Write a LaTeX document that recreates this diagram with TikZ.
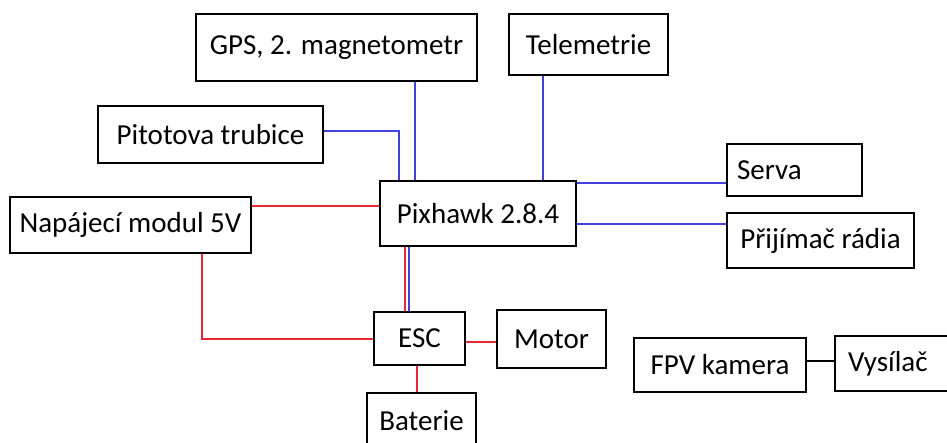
\documentclass[tikz,border=0pt]{standalone}
\usepackage{fontspec}
\setmainfont{Carlito}
\definecolor{sigblue}{RGB}{66,66,222}
\definecolor{pwrred}{RGB}{232,40,52}

\begin{document}
\begin{tikzpicture}[x=1pt,y=-1pt,font=\fontsize{29}{34}\selectfont,
    blok/.style={draw,line width=2.2pt,inner sep=0pt},
    sig/.style={sigblue,line width=2pt},
    pwr/.style={pwrred,line width=2pt}]
    \useasboundingbox (0,0) rectangle (947,443);
    \clip (0,0) rectangle (947,443);
    \node[blok,minimum width=281,minimum height=67] (gps) at (336.5,47.5) {GPS, 2. magnetometr};
    \node[blok,minimum width=159,minimum height=61] (tele) at (588.5,44.5) {Telemetrie};
    \node[blok,minimum width=225,minimum height=57] (pitot) at (210.5,134.5) {Pitotova trubice};
    \node[blok,minimum width=196,minimum height=65] (pix) at (478,213.5) {Pixhawk 2.8.4};
    \node[blok,minimum width=241,minimum height=56] (napaj) at (130.5,225) {Napájecí modul 5V};
    \node[blok,minimum height=52,inner xsep=10pt,text width=115pt,align=left] (serva) at (794.5,170) {Serva};
    \node[blok,minimum width=187,minimum height=55] (prij) at (820.5,240.5) {Přijímač rádia};
    \node[blok,minimum width=91,minimum height=53] (esc) at (419.5,338.5) {ESC};
    \node[blok,minimum width=109,minimum height=58] (motor) at (551.5,339) {Motor};
    \node[blok,minimum width=109,minimum height=55] (bat) at (421.5,420.5) {Baterie};
    \node[blok,minimum width=172,minimum height=54] (fpv) at (720,365) {FPV kamera};
    \node[blok,minimum height=55,inner xsep=13pt,text width=99pt,align=left] (vys) at (897.5,363.5) {Vysílač};
    % signalove vodice
    \draw[sig] ([yshift=3.5]pitot.east) -| ([xshift=-79]pix.north);
    \draw[sig] ([xshift=-63]pix.north) -- ([xshift=-63]pix.north |- gps.south);
    \draw[sig] ([xshift=65]pix.north) -- ([xshift=65]pix.north |- tele.south);
    \draw[sig] ([yshift=30.5]pix.east) -- ([yshift=30.5]pix.east -| serva.west);
    \draw[sig] ([yshift=-10.5]pix.east) -- ([yshift=-10.5]pix.east -| prij.west);
    % napajeni
    \draw[pwr] ([yshift=19]napaj.east) -- ([yshift=19]napaj.east -| pix.west);
    \draw[pwr] ([xshift=71.5]napaj.south) |- (esc.west);
    \draw[pwr] ([xshift=-73]pix.south) -- ([xshift=-73]pix.south |- esc.north);
    \draw[sig] ([xshift=-69.5]pix.south) -- ([xshift=-69.5]pix.south |- esc.north);
    \draw[pwr] ([yshift=-3.5]esc.east) -- ([yshift=-3.5]esc.east -| motor.west);
    \draw[pwr] ([xshift=-2.5]esc.south) -- ([xshift=-2.5]esc.south |- bat.north);
    \draw[line width=2pt] ([yshift=4]fpv.east) -- ([yshift=4]fpv.east -| vys.west);
  \end{tikzpicture}
\end{document}
